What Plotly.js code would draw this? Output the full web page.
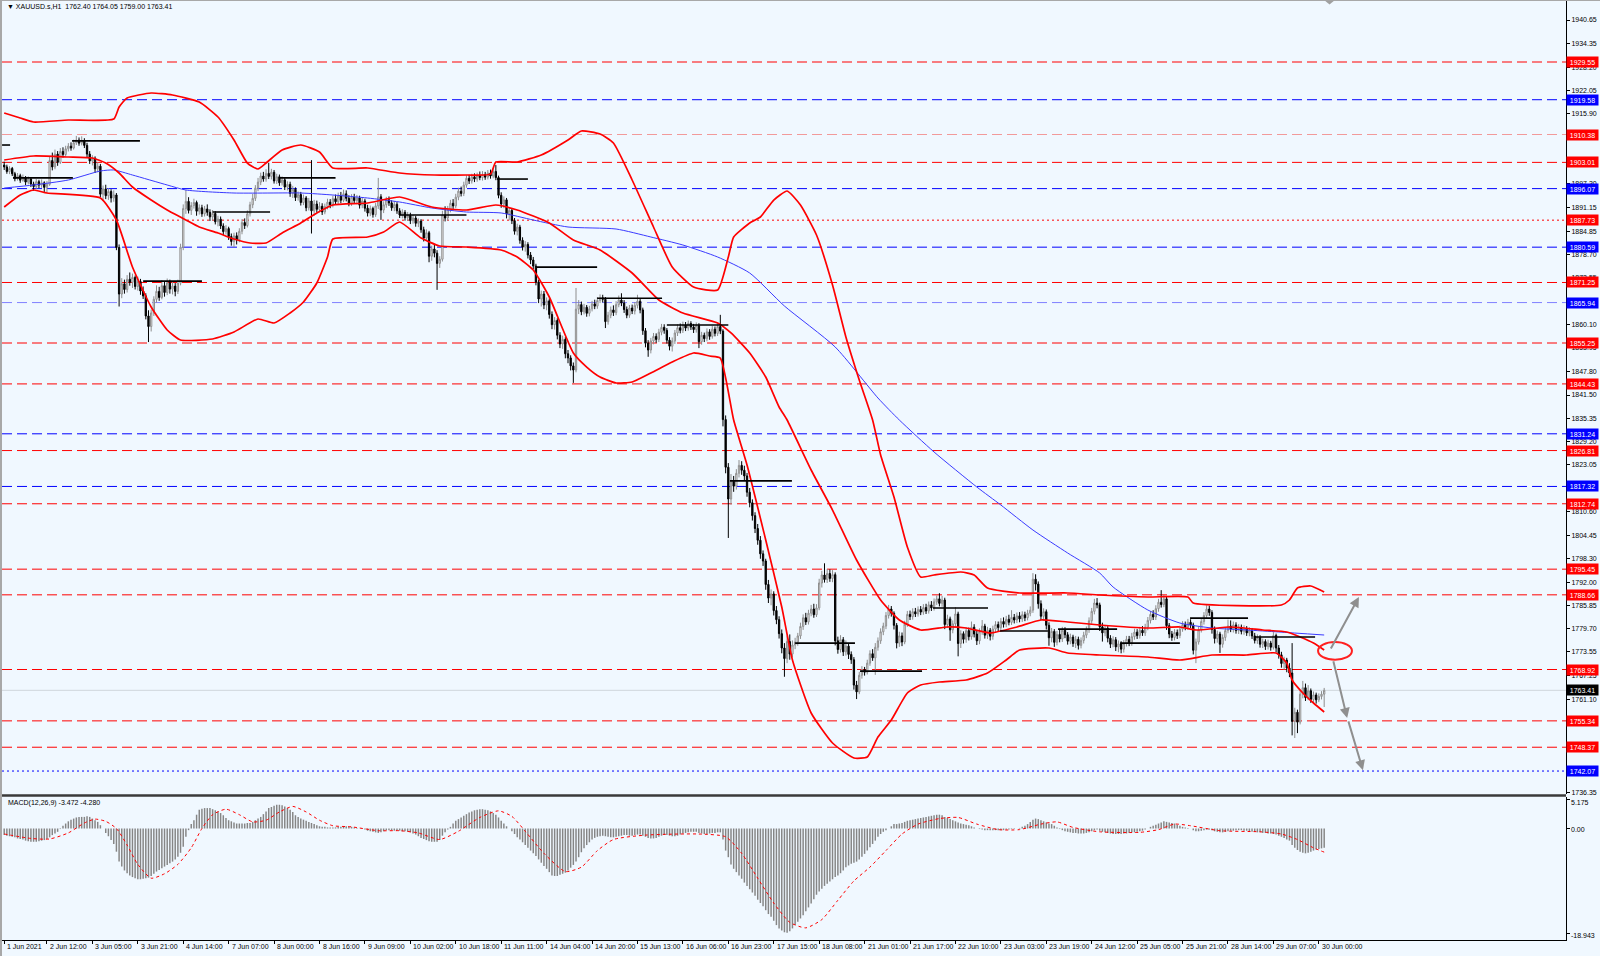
<!DOCTYPE html>
<html><head><meta charset="utf-8">
<script src="https://cdn.plot.ly/plotly-3.0.1.min.js"></script>
<style>html,body{margin:0;padding:0;background:#f0f8ff;overflow:hidden}#chart{width:1600px;height:956px}</style>
</head><body><div id="chart"></div>
<script>
// ---------------- DATA (XAUUSD.s H1) ----------------
const barOpen = [
1902.3,1901.8,1900.6,1901.4,1900.0,1898.7,1899.5,1898.3,1899.0,1897.8,
1898.6,1897.3,1896.6,1897.9,1897.0,1897.6,1896.4,1897.2,1903.5,1901.8,
1905.2,1903.0,1905.9,1905.1,1906.6,1907.3,1906.8,1908.2,1908.9,1908.1,
1908.7,1907.5,1905.2,1903.4,1904.1,1901.3,1902.0,1894.6,1896.0,1894.2,
1895.3,1893.6,1894.4,1880.5,1868.2,1870.9,1869.4,1872.1,1871.3,1872.6,
1870.2,1871.5,1869.0,1867.7,1862.4,1859.6,1863.2,1866.8,1868.9,1867.3,
1870.4,1868.6,1871.2,1869.5,1870.3,1868.9,1871.1,1880.6,1890.8,1892.7,
1890.3,1891.6,1892.4,1890.1,1891.0,1889.4,1890.7,1889.8,1888.6,1889.5,
1887.3,1888.0,1886.2,1884.7,1885.5,1883.4,1882.1,1883.6,1882.5,1884.8,
1887.1,1886.3,1889.4,1891.8,1893.5,1896.2,1897.8,1899.4,1898.6,1900.1,
1899.3,1900.4,1898.1,1899.2,1897.6,1898.4,1896.5,1897.2,1894.8,1895.9,
1893.7,1894.5,1892.4,1893.6,1891.0,1892.8,1890.2,1892.0,1890.6,1891.4,
1889.9,1891.3,1892.5,1891.8,1893.4,1892.6,1894.1,1893.0,1894.7,1893.5,
1892.2,1893.8,1892.9,1893.6,1891.7,1892.8,1890.9,1889.6,1890.8,1889.2,
1891.5,1893.9,1890.4,1891.8,1893.1,1892.3,1891.0,1891.9,1890.2,1889.1,
1889.8,1888.4,1889.0,1887.6,1888.3,1886.9,1887.5,1885.2,1883.0,1884.4,
1878.2,1880.1,1879.0,1876.3,1877.4,1889.1,1888.3,1890.6,1892.2,1891.5,
1893.8,1895.4,1894.8,1897.0,1898.8,1898.1,1899.2,1898.6,1899.5,1899.0,
1899.8,1899.1,1900.2,1899.4,1900.6,1899.0,1894.3,1892.0,1893.1,1889.4,
1890.3,1887.6,1884.8,1885.9,1882.4,1880.6,1881.3,1878.5,1877.2,1875.6,
1871.4,1866.9,1868.2,1865.3,1866.4,1862.8,1860.1,1861.2,1857.3,1855.0,
1856.2,1852.4,1851.3,1849.2,1848.1,1864.2,1865.4,1863.5,1864.7,1863.1,
1864.3,1865.6,1865.0,1866.5,1867.2,1866.8,1860.9,1862.6,1864.0,1863.3,
1865.4,1866.6,1865.8,1864.1,1862.6,1864.5,1863.7,1865.2,1866.3,1864.0,
1858.5,1855.2,1853.4,1855.8,1857.0,1856.2,1858.1,1859.4,1858.6,1856.0,
1854.4,1855.8,1857.9,1859.3,1858.6,1860.0,1859.2,1860.4,1859.5,1858.8,
1859.9,1855.6,1857.3,1856.4,1858.2,1857.0,1858.9,1857.8,1859.6,1858.4,
1835.0,1822.4,1814.0,1818.7,1817.4,1820.8,1822.9,1821.6,1820.1,1815.8,
1813.0,1809.6,1806.2,1803.1,1799.5,1797.6,1791.4,1787.8,1788.9,1784.5,
1782.1,1778.4,1774.6,1771.8,1776.3,1773.0,1775.4,1776.2,1777.8,1780.3,
1782.6,1781.5,1783.8,1784.9,1783.4,1785.2,1791.8,1793.9,1792.7,1794.3,
1793.0,1794.0,1776.5,1774.2,1776.8,1773.6,1775.1,1772.9,1771.5,1764.8,
1763.0,1767.4,1768.9,1768.2,1770.6,1773.1,1772.0,1774.8,1776.5,1778.9,
1780.4,1783.2,1784.9,1783.8,1780.6,1775.9,1777.8,1776.2,1780.9,1783.5,
1782.9,1784.2,1783.6,1784.8,1784.1,1785.3,1784.4,1786.0,1785.2,1786.8,
1787.6,1786.4,1787.3,1780.8,1782.3,1779.4,1781.0,1783.6,1775.8,1778.4,
1776.9,1779.2,1777.6,1780.1,1778.3,1776.5,1778.9,1780.4,1778.0,1779.3,
1777.7,1779.6,1780.8,1780.0,1781.6,1780.9,1782.2,1781.4,1782.7,1782.0,
1783.1,1782.3,1783.4,1782.6,1783.8,1784.6,1792.8,1791.5,1786.3,1783.0,
1784.2,1780.6,1777.3,1779.0,1776.1,1778.2,1777.0,1779.3,1778.1,1776.4,
1777.5,1775.8,1776.9,1775.3,1776.6,1778.0,1779.4,1781.8,1784.3,1786.5,
1786.0,1780.2,1778.6,1779.8,1777.2,1775.6,1776.8,1774.9,1775.7,1774.3,
1775.8,1776.9,1776.0,1777.6,1778.8,1777.9,1779.3,1778.6,1780.1,1781.9,
1783.5,1782.8,1785.0,1786.7,1786.1,1787.6,1780.5,1778.3,1777.4,1778.7,
1777.9,1779.6,1780.8,1780.1,1781.4,1780.7,1774.0,1776.2,1779.4,1781.6,
1783.2,1784.9,1784.0,1779.5,1777.1,1778.3,1775.6,1777.4,1779.2,1780.4,
1779.6,1780.7,1779.2,1780.1,1779.0,1779.8,1778.6,1779.3,1777.8,1776.6,
1777.4,1775.6,1776.3,1775.0,1775.9,1774.8,1777.9,1774.6,1772.8,1770.5,
1771.4,1769.3,1768.0,1755.2,1757.6,1755.0,1762.4,1764.1,1761.5,1763.3,
1761.0,1762.2,1760.9,1761.8,1762.40];
const barHigh = [
1903.2,1902.4,1902.0,1901.8,1900.5,1900.2,1900.0,1899.8,1899.4,1899.3,
1899.0,1897.9,1898.6,1898.4,1898.5,1898.0,1898.1,1904.5,1905.6,1906.4,
1906.0,1906.8,1907.0,1907.4,1908.1,1908.3,1909.0,1910.0,1909.6,1909.9,
1909.4,1908.2,1906.0,1904.9,1904.6,1903.0,1902.6,1896.9,1897.1,1896.2,
1895.9,1895.6,1894.9,1881.3,1872.4,1872.0,1873.2,1873.9,1873.6,1873.1,
1872.8,1872.2,1870.2,1868.4,1863.9,1864.1,1867.6,1870.5,1870.1,1871.9,
1871.6,1872.3,1872.0,1871.4,1871.1,1872.0,1881.5,1891.9,1895.7,1893.8,
1892.5,1893.4,1892.9,1891.9,1891.8,1891.5,1891.9,1890.6,1890.4,1890.1,
1888.9,1888.7,1886.9,1886.4,1886.0,1884.2,1884.4,1884.5,1885.6,1888.0,
1888.2,1890.3,1892.6,1894.7,1897.0,1898.9,1900.3,1900.5,1901.2,1902.9,
1901.3,1901.0,1900.0,1899.8,1899.3,1899.1,1898.0,1897.9,1896.8,1896.4,
1895.3,1895.2,1894.5,1894.1,1893.6,1903.6,1893.1,1892.9,1892.5,1892.2,
1892.1,1893.4,1893.3,1894.2,1894.5,1895.0,1895.2,1895.8,1895.6,1894.3,
1894.6,1894.7,1894.4,1894.2,1893.7,1893.4,1891.8,1891.6,1891.3,1892.3,
1898.9,1894.6,1892.7,1893.9,1894.0,1893.0,1892.8,1892.5,1890.9,1890.6,
1890.4,1889.9,1889.7,1889.1,1888.9,1888.2,1888.0,1886.0,1885.3,1884.9,
1881.0,1881.4,1879.8,1878.2,1890.2,1891.4,1891.5,1893.1,1893.3,1894.7,
1896.3,1896.6,1897.9,1899.6,1899.7,1900.0,1900.1,1900.3,1900.6,1900.7,
1900.5,1901.0,1901.1,1901.5,1902.3,1899.5,1895.1,1894.0,1893.6,1891.2,
1890.9,1888.3,1886.8,1886.5,1883.2,1882.2,1881.9,1879.3,1878.0,1876.2,
1872.0,1869.1,1869.0,1867.3,1867.0,1863.6,1862.1,1861.8,1858.1,1857.2,
1856.8,1853.4,1852.0,1850.1,1869.8,1866.6,1866.2,1865.6,1865.3,1865.1,
1866.4,1866.7,1867.4,1868.1,1868.0,1867.4,1863.5,1864.9,1865.2,1866.3,
1867.8,1868.4,1866.6,1864.9,1865.3,1865.4,1866.1,1868.0,1866.9,1864.6,
1859.2,1856.0,1856.6,1857.9,1857.8,1859.0,1860.3,1860.2,1859.2,1856.8,
1856.7,1858.7,1860.2,1860.4,1860.9,1860.8,1861.2,1861.0,1860.3,1860.7,
1860.5,1858.2,1858.0,1859.1,1858.9,1859.8,1859.6,1860.5,1862.7,1858.9,
1836.1,1823.5,1820.6,1820.1,1821.9,1824.3,1824.0,1822.8,1820.9,1816.9,
1813.9,1810.5,1807.4,1804.2,1800.4,1798.2,1792.6,1790.1,1789.6,1785.7,
1783.0,1779.5,1775.9,1777.9,1778.2,1776.6,1777.3,1778.6,1781.3,1783.5,
1783.9,1784.7,1786.0,1786.3,1786.2,1792.9,1795.0,1797.0,1795.5,1795.4,
1795.2,1794.6,1777.6,1778.0,1777.5,1776.6,1775.8,1773.7,1772.2,1765.9,
1768.3,1769.8,1769.6,1771.5,1774.0,1774.3,1775.9,1777.4,1779.8,1781.3,
1784.1,1786.0,1785.7,1784.3,1781.2,1778.9,1778.7,1781.8,1784.4,1784.5,
1785.1,1785.2,1785.6,1785.7,1786.2,1786.3,1786.9,1787.0,1787.7,1788.5,
1789.1,1788.4,1787.9,1783.4,1782.9,1781.9,1785.4,1784.2,1779.3,1779.0,
1780.1,1780.0,1781.6,1780.9,1779.1,1779.8,1782.0,1781.0,1780.2,1779.9,
1780.5,1781.7,1781.6,1782.5,1782.7,1783.1,1783.4,1784.6,1783.6,1784.0,
1784.1,1784.3,1784.2,1784.7,1785.6,1794.4,1794.1,1792.2,1787.2,1785.1,
1784.8,1781.4,1779.9,1779.6,1779.1,1779.4,1780.2,1780.1,1778.8,1778.4,
1778.1,1777.8,1777.6,1777.4,1778.9,1780.3,1782.7,1785.2,1787.6,1787.8,
1786.6,1781.3,1780.7,1780.4,1778.0,1777.7,1777.5,1776.6,1776.4,1776.7,
1777.8,1777.8,1778.6,1779.7,1779.6,1780.2,1780.4,1781.0,1782.8,1784.4,
1784.6,1785.9,1787.6,1789.9,1788.6,1788.2,1781.2,1779.1,1779.6,1779.5,
1780.5,1781.7,1781.6,1782.3,1782.2,1781.3,1777.1,1780.3,1782.5,1784.1,
1785.9,1785.8,1784.6,1780.3,1779.2,1778.9,1778.2,1780.1,1782.1,1781.9,
1781.6,1781.4,1780.9,1780.8,1780.6,1780.4,1780.1,1779.9,1778.6,1778.2,
1778.0,1777.1,1776.9,1776.8,1776.5,1778.8,1778.4,1775.4,1773.6,1772.3,
1772.0,1770.6,1775.9,1758.8,1758.3,1763.5,1765.9,1765.2,1764.8,1763.9,
1763.1,1762.8,1762.6,1763.2,1764.05];
const barLow = [
1901.0,1900.0,1899.9,1899.4,1898.0,1898.2,1897.6,1897.9,1897.0,1897.2,
1896.5,1895.5,1896.0,1896.2,1896.3,1895.2,1895.0,1896.8,1900.9,1901.2,
1902.1,1902.6,1904.3,1904.6,1905.9,1906.1,1906.4,1907.6,1907.4,1907.5,
1906.8,1904.4,1902.6,1902.2,1900.2,1900.4,1893.8,1892.8,1893.3,1893.1,
1892.4,1892.6,1879.8,1864.9,1867.1,1868.3,1868.6,1870.4,1869.8,1869.4,
1869.1,1868.0,1866.9,1861.5,1855.5,1858.3,1862.4,1865.9,1866.4,1866.8,
1867.5,1867.9,1868.3,1868.1,1867.6,1868.2,1870.5,1879.8,1889.4,1889.5,
1889.1,1890.8,1888.9,1889.2,1888.6,1888.7,1888.9,1887.5,1887.6,1886.6,
1886.1,1885.4,1883.8,1883.9,1882.5,1881.0,1880.6,1881.3,1881.9,1884.0,
1885.4,1885.8,1888.7,1890.9,1892.8,1895.4,1897.0,1897.9,1897.9,1898.6,
1898.5,1897.4,1897.3,1896.8,1896.9,1895.7,1895.6,1893.9,1893.6,1892.8,
1892.9,1891.6,1891.7,1890.1,1890.3,1884.2,1888.9,1889.7,1889.8,1889.1,
1889.3,1890.6,1890.9,1891.1,1891.8,1891.9,1892.2,1892.5,1892.7,1891.4,
1891.5,1892.0,1891.9,1890.8,1890.9,1890.0,1888.7,1888.8,1888.4,1888.6,
1890.7,1887.8,1889.6,1891.0,1891.5,1890.2,1890.1,1889.4,1888.3,1888.2,
1887.6,1887.5,1886.7,1886.8,1886.0,1885.9,1884.4,1882.1,1882.3,1876.6,
1877.0,1877.9,1869.3,1875.1,1876.8,1887.4,1887.6,1889.8,1890.7,1890.9,
1893.0,1894.0,1894.1,1896.3,1897.3,1897.4,1897.8,1897.9,1898.3,1898.2,
1898.4,1898.5,1898.7,1898.8,1898.3,1893.5,1891.0,1890.9,1888.2,1887.7,
1886.7,1883.9,1883.7,1881.5,1879.7,1879.4,1877.6,1876.1,1874.8,1870.5,
1865.8,1864.9,1864.2,1863.9,1861.7,1858.9,1858.8,1856.2,1853.9,1853.7,
1851.2,1849.9,1848.0,1844.7,1847.5,1862.9,1862.6,1862.8,1862.2,1862.3,
1863.6,1864.2,1864.3,1865.8,1866.0,1859.2,1860.1,1861.8,1862.4,1862.6,
1864.7,1865.0,1863.2,1861.8,1861.9,1862.9,1862.8,1864.4,1863.1,1857.4,
1854.1,1851.6,1852.5,1854.9,1855.3,1855.5,1857.3,1857.7,1855.1,1853.3,
1853.0,1855.0,1857.1,1857.8,1857.9,1858.4,1858.5,1858.7,1857.9,1858.0,
1853.9,1854.8,1855.5,1855.7,1856.1,1856.4,1857.0,1857.1,1857.6,1833.2,
1820.8,1803.7,1812.5,1815.9,1816.5,1819.7,1820.4,1819.0,1814.6,1811.8,
1808.3,1805.0,1801.9,1798.2,1796.3,1790.0,1786.5,1785.9,1783.2,1780.9,
1777.1,1773.2,1767.0,1770.6,1771.5,1772.1,1774.3,1775.2,1777.0,1779.4,
1780.7,1780.8,1783.0,1782.6,1782.8,1784.6,1790.6,1791.9,1791.8,1792.1,
1792.0,1775.3,1773.1,1773.4,1772.5,1772.6,1771.7,1770.4,1763.6,1761.1,
1762.4,1766.5,1767.3,1767.6,1769.9,1771.2,1767.5,1773.9,1775.7,1778.0,
1779.6,1782.4,1782.9,1779.5,1774.5,1774.9,1775.1,1775.6,1780.2,1782.0,
1782.1,1782.8,1782.9,1783.3,1783.4,1783.6,1783.7,1784.4,1784.5,1786.0,
1785.6,1785.5,1779.6,1779.9,1776.5,1778.5,1780.2,1772.4,1774.6,1775.8,
1776.0,1776.6,1776.8,1777.4,1775.4,1775.6,1778.1,1777.1,1777.0,1776.6,
1776.8,1778.8,1779.1,1779.2,1780.0,1780.1,1780.6,1780.7,1781.1,1781.2,
1781.4,1781.5,1781.7,1781.9,1783.0,1783.9,1789.8,1785.0,1782.0,1781.9,
1779.5,1775.2,1776.1,1774.9,1775.3,1776.1,1776.2,1777.2,1775.5,1775.6,
1774.9,1774.6,1774.2,1774.5,1775.8,1777.2,1778.6,1781.0,1783.5,1785.1,
1779.1,1776.3,1777.7,1776.1,1774.6,1774.8,1773.8,1773.5,1773.2,1773.4,
1775.0,1775.1,1775.2,1776.8,1777.0,1777.1,1777.8,1777.8,1779.3,1781.1,
1782.0,1782.0,1784.2,1785.3,1785.4,1779.4,1777.2,1776.5,1776.6,1777.0,
1777.2,1778.9,1779.3,1779.4,1779.9,1772.9,1770.6,1775.5,1778.7,1780.8,
1782.4,1783.1,1778.4,1775.8,1776.0,1773.3,1774.7,1776.5,1778.5,1778.8,
1778.7,1778.4,1778.3,1778.2,1778.1,1777.8,1777.7,1777.0,1775.8,1775.7,
1774.7,1774.6,1774.1,1774.2,1773.9,1774.2,1773.5,1771.8,1769.4,1768.9,
1768.2,1766.9,1751.5,1750.8,1752.1,1754.4,1761.3,1760.6,1760.8,1760.1,
1760.2,1759.9,1760.3,1761.0,1759.00];
const barClose = [
1901.8,1900.6,1901.4,1900.0,1898.7,1899.5,1898.3,1899.0,1897.8,1898.6,
1897.3,1896.6,1897.9,1897.0,1897.6,1896.4,1897.2,1903.5,1901.8,1905.2,
1903.0,1905.9,1905.1,1906.6,1907.3,1906.8,1908.2,1908.9,1908.1,1908.7,
1907.5,1905.2,1903.4,1904.1,1901.3,1902.0,1894.6,1896.0,1894.2,1895.3,
1893.6,1894.4,1880.5,1868.2,1870.9,1869.4,1872.1,1871.3,1872.6,1870.2,
1871.5,1869.0,1867.7,1862.4,1859.6,1863.2,1866.8,1868.9,1867.3,1870.4,
1868.6,1871.2,1869.5,1870.3,1868.9,1871.1,1880.6,1890.8,1892.7,1890.3,
1891.6,1892.4,1890.1,1891.0,1889.4,1890.7,1889.8,1888.6,1889.5,1887.3,
1888.0,1886.2,1884.7,1885.5,1883.4,1882.1,1883.6,1882.5,1884.8,1887.1,
1886.3,1889.4,1891.8,1893.5,1896.2,1897.8,1899.4,1898.6,1900.1,1899.3,
1900.4,1898.1,1899.2,1897.6,1898.4,1896.5,1897.2,1894.8,1895.9,1893.7,
1894.5,1892.4,1893.6,1891.0,1892.8,1890.2,1892.0,1890.6,1891.4,1889.9,
1891.3,1892.5,1891.8,1893.4,1892.6,1894.1,1893.0,1894.7,1893.5,1892.2,
1893.8,1892.9,1893.6,1891.7,1892.8,1890.9,1889.6,1890.8,1889.2,1891.5,
1893.9,1890.4,1891.8,1893.1,1892.3,1891.0,1891.9,1890.2,1889.1,1889.8,
1888.4,1889.0,1887.6,1888.3,1886.9,1887.5,1885.2,1883.0,1884.4,1878.2,
1880.1,1879.0,1876.3,1877.4,1889.1,1888.3,1890.6,1892.2,1891.5,1893.8,
1895.4,1894.8,1897.0,1898.8,1898.1,1899.2,1898.6,1899.5,1899.0,1899.8,
1899.1,1900.2,1899.4,1900.6,1899.0,1894.3,1892.0,1893.1,1889.4,1890.3,
1887.6,1884.8,1885.9,1882.4,1880.6,1881.3,1878.5,1877.2,1875.6,1871.4,
1866.9,1868.2,1865.3,1866.4,1862.8,1860.1,1861.2,1857.3,1855.0,1856.2,
1852.4,1851.3,1849.2,1848.1,1864.2,1865.4,1863.5,1864.7,1863.1,1864.3,
1865.6,1865.0,1866.5,1867.2,1866.8,1860.9,1862.6,1864.0,1863.3,1865.4,
1866.6,1865.8,1864.1,1862.6,1864.5,1863.7,1865.2,1866.3,1864.0,1858.5,
1855.2,1853.4,1855.8,1857.0,1856.2,1858.1,1859.4,1858.6,1856.0,1854.4,
1855.8,1857.9,1859.3,1858.6,1860.0,1859.2,1860.4,1859.5,1858.8,1859.9,
1855.6,1857.3,1856.4,1858.2,1857.0,1858.9,1857.8,1859.6,1858.4,1835.0,
1822.4,1814.0,1818.7,1817.4,1820.8,1822.9,1821.6,1820.1,1815.8,1813.0,
1809.6,1806.2,1803.1,1799.5,1797.6,1791.4,1787.8,1788.9,1784.5,1782.1,
1778.4,1774.6,1771.8,1776.3,1773.0,1775.4,1776.2,1777.8,1780.3,1782.6,
1781.5,1783.8,1784.9,1783.4,1785.2,1791.8,1793.9,1792.7,1794.3,1793.0,
1794.0,1776.5,1774.2,1776.8,1773.6,1775.1,1772.9,1771.5,1764.8,1763.0,
1767.4,1768.9,1768.2,1770.6,1773.1,1772.0,1774.8,1776.5,1778.9,1780.4,
1783.2,1784.9,1783.8,1780.6,1775.9,1777.8,1776.2,1780.9,1783.5,1782.9,
1784.2,1783.6,1784.8,1784.1,1785.3,1784.4,1786.0,1785.2,1786.8,1787.6,
1786.4,1787.3,1780.8,1782.3,1779.4,1781.0,1783.6,1775.8,1778.4,1776.9,
1779.2,1777.6,1780.1,1778.3,1776.5,1778.9,1780.4,1778.0,1779.3,1777.7,
1779.6,1780.8,1780.0,1781.6,1780.9,1782.2,1781.4,1782.7,1782.0,1783.1,
1782.3,1783.4,1782.6,1783.8,1784.6,1792.8,1791.5,1786.3,1783.0,1784.2,
1780.6,1777.3,1779.0,1776.1,1778.2,1777.0,1779.3,1778.1,1776.4,1777.5,
1775.8,1776.9,1775.3,1776.6,1778.0,1779.4,1781.8,1784.3,1786.5,1786.0,
1780.2,1778.6,1779.8,1777.2,1775.6,1776.8,1774.9,1775.7,1774.3,1775.8,
1776.9,1776.0,1777.6,1778.8,1777.9,1779.3,1778.6,1780.1,1781.9,1783.5,
1782.8,1785.0,1786.7,1786.1,1787.6,1780.5,1778.3,1777.4,1778.7,1777.9,
1779.6,1780.8,1780.1,1781.4,1780.7,1774.0,1776.2,1779.4,1781.6,1783.2,
1784.9,1784.0,1779.5,1777.1,1778.3,1775.6,1777.4,1779.2,1780.4,1779.6,
1780.7,1779.2,1780.1,1779.0,1779.8,1778.6,1779.3,1777.8,1776.6,1777.4,
1775.6,1776.3,1775.0,1775.9,1774.8,1777.9,1774.6,1772.8,1770.5,1771.4,
1769.3,1768.0,1755.2,1757.6,1755.0,1762.4,1764.1,1761.5,1763.3,1761.0,
1762.2,1760.9,1761.8,1762.40,1763.41];

// Bollinger bands (red) and moving average (blue): bar index / price read at points
const bbUpperIdx = [0,6,11,24,41,43,46,55,63,73,80,86,91,95,98,104,111,118,123,136,148,161,173,182,184,192,201,211,216,223,228,235,243,250,258,267,271,273,279,283,288,293,298,304,310,315,320,325,328,333,338,343,348,358,363,368,380,398,410,428,443,445,478,481,484,489,494];
const bbUpper = [1916.07,1914.74,1913.69,1914.21,1914.48,1917.65,1920.03,1921.35,1920.82,1918.97,1915.01,1908.93,1902.84,1901.26,1902.84,1906.28,1907.60,1905.75,1901.52,1901.52,1900.20,1899.67,1899.67,1899.9,1903.11,1903.11,1904.96,1908.93,1911.31,1910.51,1908.13,1898.35,1885.92,1875.35,1870.06,1869.26,1877.99,1883.28,1886.98,1888.57,1893.06,1895.44,1891.74,1883.81,1870.59,1856.84,1845.47,1834.89,1825.64,1814.53,1801.31,1793.38,1793.91,1794.70,1793.91,1790.47,1789.15,1789.15,1788.62,1788.09,1788.09,1786.50,1785.98,1787.30,1790.47,1791.00,1789.41];
const bbMidIdx = [0,11,24,33,38,43,48,55,61,68,73,80,86,92,98,104,111,117,123,136,148,160,173,184,192,204,213,223,235,245,254,267,272,279,285,290,293,302,310,319,328,335,343,353,360,369,379,388,398,410,428,440,446,459,471,480,485,490,494];
const bbMid = [1903.64,1904.70,1904.43,1904.17,1902.84,1900.20,1896.50,1893.06,1890.42,1887.77,1885.92,1884.34,1882.75,1881.69,1881.69,1884.34,1886.98,1889.63,1891.74,1892.27,1893.85,1891.21,1890.42,1891.74,1890.42,1886.98,1882.48,1879.84,1873.76,1866.62,1863.18,1860.54,1857.90,1852.61,1846.26,1838.33,1834.89,1821.67,1811.09,1797.87,1787.30,1782.01,1779.37,1780.16,1779.89,1778.57,1780.16,1782.01,1781.48,1780.69,1779.89,1780.16,1779.37,1780.16,1779.37,1778.84,1777.52,1775.93,1774.08];
const bbLowerIdx = [0,6,11,16,36,42,48,55,61,66,78,86,95,101,107,112,117,121,123,136,142,148,156,163,173,186,192,198,204,213,218,223,229,235,242,250,258,264,268,273,278,285,291,295,302,310,318,323,327,332,338,343,350,360,368,375,380,391,398,410,428,440,452,465,476,480,482,486,490,494];
const bbLower = [1891.21,1894.38,1895.70,1894.91,1893.59,1887.77,1875.35,1864.77,1858.69,1856.04,1856.31,1858.16,1861.60,1860.54,1863.18,1866.09,1871.11,1877.99,1882.75,1883.28,1884.60,1887.24,1883.01,1880.90,1880.63,1879.84,1877.99,1874.55,1867.41,1852.61,1848.90,1846.26,1844.67,1844.94,1847.32,1850.23,1852.61,1851.81,1851.28,1834.89,1822.99,1803.16,1785.45,1771.43,1757.42,1749.49,1745.52,1745.78,1751.07,1755.57,1762.71,1764.82,1765.61,1766.14,1767.99,1771.43,1774.08,1774.60,1773.28,1772.75,1772.23,1771.43,1772.75,1772.75,1773.28,1770.64,1766.14,1762.71,1760.06,1757.68];
const maIdx = [0,11,24,36,41,48,61,68,86,111,123,136,148,160,173,186,198,211,229,242,254,267,279,292,311,327,335,348,364,373,385,398,410,415,428,440,452,465,477,494];
const maVal = [1896.23,1897.03,1898.35,1900.73,1901.00,1899.67,1897.03,1895.70,1894.91,1894.91,1894.38,1893.59,1892.53,1890.95,1889.89,1889.63,1887.77,1885.92,1885.39,1883.28,1881.16,1877.99,1873.76,1865.03,1854.19,1840.71,1834.89,1826.43,1817.17,1812.41,1805.80,1799.72,1794.43,1790.73,1784.65,1781.21,1779.89,1779.37,1778.84,1778.04];

// MACD(12,26,9): main (histogram) per bar, signal (dotted) read at points
const macdMain = [
-1.2,-1.3,-1.4,-1.5,-1.6,-1.8,-1.9,-2.0,-2.2,-2.3,
-2.4,-2.4,-2.4,-2.3,-2.2,-2.1,-1.9,-1.6,-1.2,-0.9,
-0.6,-0.1,0.5,0.9,1.3,1.6,1.8,2.0,2.1,2.1,
2.1,2.2,2.1,1.8,1.5,1.2,0.6,0.0,-0.8,-1.4,
-2.1,-2.8,-4.2,-6.0,-6.9,-7.6,-8.1,-8.5,-8.8,-9.0,
-9.2,-9.2,-9.1,-9.0,-8.9,-8.6,-8.2,-7.8,-7.5,-7.2,
-6.9,-6.6,-6.3,-6.0,-5.6,-5.1,-4.4,-3.3,-1.5,-0.3,
0.8,1.5,2.5,3.4,3.6,3.7,3.7,3.7,3.5,3.3,
3.1,2.8,2.4,1.9,1.5,1.3,1.1,0.9,0.9,0.9,
0.9,1.0,1.0,1.2,1.5,1.8,2.1,2.6,3.1,3.7,
3.9,4.1,4.3,4.3,4.2,4.0,3.7,3.4,3.0,2.4,
2.1,1.8,1.6,1.4,1.2,1.0,0.8,0.6,0.4,0.3,
0.3,0.2,0.2,0.2,0.2,0.3,0.3,0.3,0.4,0.3,
0.3,0.2,0.1,0.0,-0.1,-0.2,-0.4,-0.5,-0.6,-0.7,
-0.8,-0.7,-0.5,-0.3,-0.3,-0.3,-0.4,-0.4,-0.4,-0.5,
-0.5,-0.6,-0.7,-0.9,-1.1,-1.4,-1.7,-1.9,-2.1,-2.3,
-2.4,-2.4,-2.4,-2.1,-1.3,-0.7,-0.2,0.3,0.9,1.4,
1.7,2.0,2.3,2.6,2.9,3.1,3.3,3.4,3.5,3.5,
3.4,3.3,3.1,2.8,2.5,2.0,1.4,0.9,0.4,0.0,
-0.5,-1.0,-1.6,-2.0,-2.5,-3.0,-3.5,-4.0,-4.5,-5.0,
-5.6,-6.2,-6.8,-7.3,-7.9,-8.5,-8.6,-8.6,-8.4,-8.2,
-8.0,-7.6,-7.1,-6.6,-6.0,-5.2,-4.3,-3.6,-3.0,-2.5,
-2.0,-1.7,-1.5,-1.4,-1.3,-1.4,-1.5,-1.6,-1.6,-1.5,
-1.4,-1.3,-1.2,-1.2,-1.3,-1.3,-1.2,-1.1,-1.1,-1.3,
-1.5,-1.7,-1.8,-1.8,-1.7,-1.5,-1.3,-1.2,-1.2,-1.3,
-1.4,-1.4,-1.3,-1.1,-0.9,-0.8,-0.7,-0.6,-0.6,-0.6,
-0.8,-0.9,-1.0,-1.0,-0.9,-0.8,-0.8,-0.7,-0.7,-2.0,
-4.0,-5.2,-6.5,-7.3,-7.9,-8.5,-9.1,-9.8,-10.4,-11.0,
-11.6,-12.2,-12.9,-13.5,-14.1,-14.8,-15.5,-16.0,-16.7,-17.5,
-18.1,-18.5,-18.8,-18.9,-18.6,-18.1,-17.5,-16.9,-16.3,-15.7,
-15.0,-14.3,-13.6,-12.8,-12.0,-11.4,-10.9,-10.4,-10.0,-9.6,
-9.2,-8.8,-8.5,-8.1,-7.6,-7.0,-6.7,-6.4,-6.2,-6.0,
-5.6,-5.1,-4.6,-4.0,-3.4,-2.8,-2.2,-1.5,-1.0,-0.6,
-0.3,0.0,0.4,0.8,0.8,0.9,1.0,1.2,1.4,1.5,
1.6,1.7,1.8,1.9,2.0,2.1,2.2,2.3,2.4,2.5,
2.5,2.4,2.1,1.9,1.7,1.5,1.3,1.1,0.9,0.8,
0.7,0.6,0.4,0.2,0.0,-0.1,-0.2,-0.3,-0.3,-0.3,
-0.3,-0.3,-0.3,-0.3,-0.3,-0.2,-0.2,-0.1,-0.1,0.0,
0.1,0.3,0.5,0.8,1.2,1.6,1.8,1.7,1.5,1.3,
1.1,0.9,0.8,0.5,0.2,-0.1,-0.3,-0.5,-0.6,-0.7,
-0.8,-0.8,-0.9,-0.9,-0.9,-0.8,-0.7,-0.5,-0.3,-0.2,
-0.4,-0.6,-0.7,-0.8,-0.9,-1.0,-1.0,-1.0,-1.0,-0.9,
-0.9,-0.8,-0.7,-0.7,-0.6,-0.5,-0.4,-0.2,0.0,0.3,
0.5,0.7,0.9,1.1,1.3,1.2,1.1,1.0,0.9,0.7,
0.5,0.3,0.2,0.1,0.0,-0.3,-0.5,-0.5,-0.4,-0.3,
-0.2,-0.2,-0.3,-0.5,-0.6,-0.7,-0.7,-0.6,-0.5,-0.4,
-0.4,-0.3,-0.3,-0.3,-0.4,-0.4,-0.5,-0.6,-0.6,-0.7,
-0.7,-0.8,-0.8,-0.9,-0.9,-1.0,-1.1,-1.3,-1.5,-1.7,
-2.0,-2.2,-3.0,-3.5,-3.9,-4.2,-4.4,-4.5,-4.4,-4.2,
-4.0,-3.8,-3.7,-3.6,-3.472];
const macdSigIdx = [0,10,17,24,30,34,38,42,46,50,55,60,65,70,74,78,83,88,93,98,103,108,113,118,123,130,140,148,155,163,170,178,185,190,195,202,210,216,222,228,240,260,270,276,282,288,294,300,306,312,318,324,330,336,342,350,357,364,372,380,388,394,400,410,425,432,438,444,455,470,478,484,490,494];
const macdSignal = [-1.0,-1.8,-1.9,-0.8,1.0,1.7,1.3,0.0,-3.0,-6.5,-9.0,-8.2,-6.5,-3.5,0.0,2.5,3.5,2.5,1.2,1.5,3.0,4.0,3.0,1.5,0.5,0.3,-0.4,-0.4,-0.8,-2.0,-0.5,2.0,3.2,2.2,-0.5,-4.5,-7.8,-7.0,-4.0,-2.0,-1.2,-1.0,-1.5,-4.5,-9.0,-13.5,-17.0,-18.0,-16.5,-13.0,-9.5,-7.0,-4.0,-1.0,0.8,1.8,2.0,0.8,-0.2,-0.2,0.8,1.2,0.2,-0.6,-0.7,-0.2,0.8,0.5,-0.4,-0.6,-1.0,-2.0,-3.5,-4.28];

// Horizontal price levels (dashed lines with price boxes)
const levelPrices = [1929.55,1919.58,1910.38,1903.01,1896.07,1887.73,1880.59,1871.25,1865.94,1855.25,1844.43,1831.24,1826.81,1817.32,1812.74,1795.45,1788.66,1768.92,1755.34,1748.37,1742.07];
const levelKinds  = ['red','blue','pink','red','blue','reddot','blue','red','lightblue','red','red','blue','red','blue','red','red','red','red','red','red','bluedot'];
const lastPrice = 1763.41;

// Short black horizontal levels: start bar, end bar, price
const segStart = [-0.8,3.3,25.4,52,78,103,148,184.4,199.4,221.9,248,271.6,296,320.3,347.6,372.7,394.4,417.6,443.8,468];
const segEnd   = [2.2,25.7,50.8,74,99.5,124,173,196,221.9,246.2,271,294.8,318.4,343.5,368.2,390.6,416.5,440,465.5,490.6];
const segPrice = [1907.6,1898.9,1908.7,1871.6,1889.9,1898.9,1889.1,1898.6,1875.3,1867.1,1860.0,1818.8,1775.9,1768.5,1785.2,1779.1,1779.6,1775.9,1782.5,1777.5];

// Analyst drawings: ellipse and arrows (bar index / price)
const ellipseIdx = [491.7,504.4], ellipsePrice = [1771.5,1776.2];
const arrowTailIdx = [496.2,497.3,502.9], arrowTailPrice = [1774.1,1771.5,1755.6];
const arrowHeadIdx = [507.0,502.6,508.5], arrowHeadPrice = [1788.1,1756.1,1742.3];

// Axis labels
const priceTicks = [1940.65,1934.35,1928.20,1922.05,1915.90,1909.75,1903.60,1897.30,1891.15,1884.85,1878.70,1872.55,1866.25,1860.10,1853.95,1847.80,1841.50,1835.35,1829.20,1823.05,1816.75,1810.60,1804.45,1798.30,1792.00,1785.85,1779.70,1773.55,1767.25,1761.10,1754.95,1748.65,1742.50,1736.35];
const timeTickIdx = [0,16,33,50,67,84,101,118,135,152,169,186,203,220,237,254,271,288,305,322,339,356,373,390,407,424,441,458,475,492];
const timeTickText = ["1 Jun 2021","2 Jun 12:00","3 Jun 05:00","3 Jun 21:00","4 Jun 14:00","7 Jun 07:00","8 Jun 00:00","8 Jun 16:00","9 Jun 09:00","10 Jun 02:00","10 Jun 18:00","11 Jun 11:00","14 Jun 04:00","14 Jun 20:00","15 Jun 13:00","16 Jun 06:00","16 Jun 23:00","17 Jun 15:00","18 Jun 08:00","21 Jun 01:00","21 Jun 17:00","22 Jun 10:00","23 Jun 03:00","23 Jun 19:00","24 Jun 12:00","25 Jun 05:00","25 Jun 21:00","28 Jun 14:00","29 Jun 07:00","30 Jun 00:00"];
const macdTicks = [5.175, 0, -18.943];
const headerText = "\u25BC XAUUSD.s,H1  1762.40 1764.05 1759.00 1763.41";
const macdText = "MACD(12,26,9) -3.472 -4.280";

// ---------------- RENDERING ----------------
const W = 1600, H = 956, ML = 2, MR = 34, MT = 1, MB = 16;
const plotH = H - MT - MB;                 // 939 (plot area rows 1..940)
const py = p => (H - MB - p) / plotH;        // pixel row -> paper y
const px = p => (p - ML) / (W - ML - MR);    // pixel col -> paper x
const FONT = 'Liberation Sans, Arial, sans-serif';

const barIdx = barClose.map((_, i) => i);
const hi = barHigh.map((v, i) => Math.max(v, barOpen[i], barClose[i]));
const lo = barLow.map((v, i) => Math.min(v, barOpen[i], barClose[i]));

const segX = [], segY = [];
segStart.forEach((s, k) => { segX.push(s, segEnd[k], null); segY.push(segPrice[k], segPrice[k], null); });

const traces = [
  {type:'candlestick', x:barIdx, open:barOpen, high:hi, low:lo, close:barClose, xaxis:'x', yaxis:'y',
   increasing:{line:{color:'#8e8e8e', width:1}, fillcolor:'#ffffff'},
   decreasing:{line:{color:'#000000', width:1}, fillcolor:'#000000'},
   whiskerwidth:0, hoverinfo:'skip', showlegend:false},
  {type:'scatter', mode:'lines', x:maIdx, y:maVal, xaxis:'x', yaxis:'y', line:{color:'#3a3aff', width:1, shape:'spline', smoothing:0.6}, hoverinfo:'skip'},
  {type:'scatter', mode:'lines', x:bbUpperIdx, y:bbUpper, xaxis:'x', yaxis:'y', line:{color:'#ff0000', width:1.7, shape:'spline', smoothing:0.5}, hoverinfo:'skip'},
  {type:'scatter', mode:'lines', x:bbMidIdx, y:bbMid, xaxis:'x', yaxis:'y', line:{color:'#ff0000', width:1.7, shape:'spline', smoothing:0.5}, hoverinfo:'skip'},
  {type:'scatter', mode:'lines', x:bbLowerIdx, y:bbLower, xaxis:'x', yaxis:'y', line:{color:'#ff0000', width:1.7, shape:'spline', smoothing:0.5}, hoverinfo:'skip'},
  {type:'scatter', mode:'lines', x:segX, y:segY, xaxis:'x', yaxis:'y', line:{color:'#000000', width:1.6}, connectgaps:false, hoverinfo:'skip'},
  {type:'bar', x:barIdx, y:macdMain, xaxis:'x', yaxis:'y2', width:0.55, marker:{color:'#858585', line:{width:0}}, hoverinfo:'skip'},
  {type:'scatter', mode:'lines', x:macdSigIdx, y:macdSignal, xaxis:'x', yaxis:'y2', line:{color:'#ff0000', width:1, dash:'dot', shape:'spline', smoothing:0.6}, hoverinfo:'skip'}
];

const kindStyle = {
  red:{line:'#ff0000', dash:'10px,5px', box:'#ff0000'},
  pink:{line:'#f29a9a', dash:'10px,5px', box:'#ff0000'},
  blue:{line:'#0000ff', dash:'10px,5px', box:'#0000ff'},
  lightblue:{line:'#8080ff', dash:'10px,5px', box:'#0000ff'},
  reddot:{line:'#ff0000', dash:'2px,3px', box:'#ff0000'},
  bluedot:{line:'#0000ff', dash:'2px,3px', box:'#0000ff'}
};

const shapes = [];
levelPrices.forEach((p, k) => {
  const st = kindStyle[levelKinds[k]];
  shapes.push({type:'line', xref:'paper', yref:'y', x0:0, x1:1, y0:p, y1:p, layer:'below', line:{color:st.line, width:1, dash:st.dash}});
});
shapes.push({type:'line', xref:'paper', yref:'y', x0:0, x1:1, y0:lastPrice, y1:lastPrice, layer:'below', line:{color:'#cfd6dc', width:1}});
// pane separator, window borders
shapes.push({type:'line', xref:'paper', yref:'paper', x0:px(0), x1:1, y0:py(795.5), y1:py(795.5), line:{color:'#3a3a3a', width:2.5}});
shapes.push({type:'line', xref:'paper', yref:'paper', x0:px(1), x1:px(1), y0:py(956), y1:py(0), line:{color:'#a8a8a8', width:2}});
shapes.push({type:'line', xref:'paper', yref:'paper', x0:px(0), x1:px(1600), y0:py(0.5), y1:py(0.5), line:{color:'#a8a8a8', width:1}});
// analyst ellipse
shapes.push({type:'circle', xref:'x', yref:'y', x0:ellipseIdx[0], x1:ellipseIdx[1], y0:ellipsePrice[0], y1:ellipsePrice[1], line:{color:'#ff2020', width:2}});
// chart-shift marker at the top
shapes.push({type:'path', xref:'x', yref:'paper', path:`M 494.2,${py(0.5)} L 497.8,${py(0.5)} L 496,${py(4.5)} Z`, fillcolor:'#a0a0a0', line:{width:0}});

const annotations = [];
levelPrices.forEach((p, k) => {
  annotations.push({xref:'paper', x:1, xanchor:'left', xshift:0, yref:'y', y:p, yanchor:'middle', text:p.toFixed(2), showarrow:false,
    font:{family:FONT, size:7, color:'#ffffff'}, bgcolor:kindStyle[levelKinds[k]].box, borderpad:1, width:29, height:8});
});
annotations.push({xref:'paper', x:1, xanchor:'left', yref:'y', y:lastPrice, yanchor:'middle', text:lastPrice.toFixed(2), showarrow:false,
  font:{family:FONT, size:7, color:'#ffffff'}, bgcolor:'#000000', borderpad:1, width:29, height:8});
annotations.push({xref:'paper', yref:'paper', x:px(5), y:py(7), xanchor:'left', yanchor:'middle', text:headerText, showarrow:false, font:{family:FONT, size:7, color:'#000'}});
annotations.push({xref:'paper', yref:'paper', x:px(6), y:py(803), xanchor:'left', yanchor:'middle', text:macdText, showarrow:false, font:{family:FONT, size:7, color:'#000'}});
const macdLabelRows = [802, 829, 935];
macdTicks.forEach((v, k) => {
  annotations.push({xref:'paper', yref:'paper', x:1, xshift:3, y:py(macdLabelRows[k]), xanchor:'left', yanchor:'middle',
    text:(v === 0 ? '0.00' : String(v)), showarrow:false, font:{family:FONT, size:7, color:'#000'}});
});
timeTickIdx.forEach((ix, k) => {
  annotations.push({xref:'x', yref:'paper', x:ix, y:py(947), xanchor:'left', yanchor:'middle', xshift:1,
    text:timeTickText[k], showarrow:false, font:{family:FONT, size:7, color:'#000'}});
});
arrowTailIdx.forEach((t, k) => {
  annotations.push({xref:'x', yref:'y', axref:'x', ayref:'y', x:arrowHeadIdx[k], y:arrowHeadPrice[k], ax:t, ay:arrowTailPrice[k],
    text:'', showarrow:true, arrowhead:2, arrowsize:1, arrowwidth:2, arrowcolor:'#8f8f8f'});
});

const layout = {
  width:W, height:H, margin:{l:ML, r:MR, t:MT, b:MB, pad:0},
  paper_bgcolor:'#f0f8ff', plot_bgcolor:'#f0f8ff', showlegend:false, hovermode:false,
  xaxis:{range:[-0.823, 584.5], anchor:'y2', showgrid:false, zeroline:false, rangeslider:{visible:false},
    tickmode:'array', tickvals:timeTickIdx, ticks:'outside', ticklen:3, tickcolor:'#000', showticklabels:false,
    showline:true, linecolor:'#000', linewidth:1, fixedrange:true},
  yaxis:{domain:[py(794), 1], range:[1736.00, 1945.68], side:'right', anchor:'x', showgrid:false, zeroline:false,
    tickmode:'array', tickvals:priceTicks, ticktext:priceTicks.map(v => v.toFixed(2)), ticks:'outside', ticklen:3, tickcolor:'#000',
    tickfont:{family:FONT, size:7, color:'#000'}, showline:true, linecolor:'#000', linewidth:1, fixedrange:true},
  yaxis2:{domain:[0, py(797)], range:[-20.20, 5.707], side:'right', anchor:'x', showgrid:false, zeroline:false,
    tickmode:'array', tickvals:macdTicks, ticks:'outside', ticklen:3, tickcolor:'#000', showticklabels:false,
    showline:true, linecolor:'#000', linewidth:1, fixedrange:true},
  shapes:shapes, annotations:annotations
};

Plotly.newPlot('chart', traces, layout, {staticPlot:true, displayModeBar:false});
</script>
</body></html>
